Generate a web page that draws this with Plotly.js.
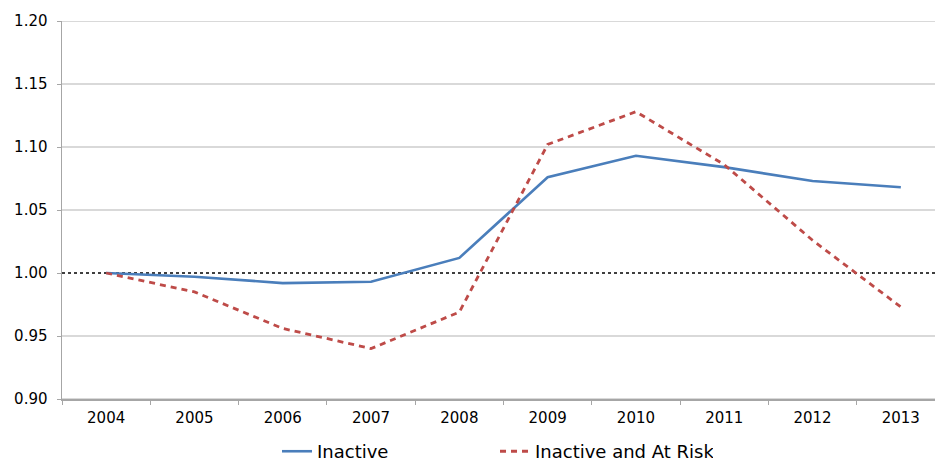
<!DOCTYPE html>
<html>
<head>
<meta charset="utf-8">
<script src="https://cdn.plot.ly/plotly-3.0.1.min.js"></script>
<style>
  html, body { margin: 0; padding: 0; background: #ffffff; }
  #chart { width: 935px; height: 462px; }
</style>
</head>
<body>
<div id="chart"></div>
<script>
// Index values relative to 2004 (= 1.00)
const years = ['2004', '2005', '2006', '2007', '2008', '2009', '2010', '2011', '2012', '2013'];
const inactive = [1.000, 0.997, 0.992, 0.993, 1.012, 1.076, 1.093, 1.084, 1.073, 1.068];
const inactiveAtRisk = [1.000, 0.985, 0.956, 0.940, 0.969, 1.102, 1.128, 1.086, 1.026, 0.973];
const baseline = 1.00;
const yTicks = [0.90, 0.95, 1.00, 1.05, 1.10, 1.15, 1.20];
const gridTicks = yTicks.filter(v => v !== baseline);

const font = 'DejaVu Sans, Verdana, sans-serif';

const traces = [
  {
    x: years, y: inactive, name: 'Inactive', type: 'scatter', mode: 'lines',
    line: { color: '#4A7EBB', width: 2.6 }
  },
  {
    x: years, y: inactiveAtRisk, name: 'Inactive and At Risk', type: 'scatter', mode: 'lines',
    line: { color: '#BE4B48', width: 2.8, dash: '6px,5px' }
  }
];

// Gray gridlines everywhere except the baseline, which is drawn dotted
const gridShapes = gridTicks.map(v => ({
  type: 'line', xref: 'paper', x0: 0, x1: 1, yref: 'y', y0: v, y1: v,
  line: { color: '#B4B4B4', width: 1.2 }, layer: 'below'
}));

const layout = {
  width: 935, height: 462,
  margin: { l: 62, r: 0, t: 21, b: 63, autoexpand: false },
  paper_bgcolor: '#ffffff', plot_bgcolor: '#ffffff',
  font: { family: font, size: 14, color: '#000000' },
  showlegend: true,
  legend: {
    orientation: 'h', x: 0.496, xanchor: 'center', y: -0.139, yanchor: 'middle',
    font: { family: font, size: 18, color: '#000000' },
    entrywidth: 173, itemwidth: 30
  },
  xaxis: {
    type: 'category', range: [-0.5, 9.387],
    showgrid: false, zeroline: false,
    showline: true, linecolor: '#A6A6A6', linewidth: 1.5,
    ticks: 'outside', tickson: 'boundaries', ticklen: 4, tickcolor: '#A6A6A6',
    tickfont: { family: font, size: 15 }, ticklabelstandoff: 4
  },
  yaxis: {
    range: [0.90, 1.20], tickvals: yTicks,
    ticktext: yTicks.map(v => v.toFixed(2)),
    showgrid: false,
    zeroline: false,
    showline: true, linecolor: '#A6A6A6', linewidth: 1.5,
    ticks: 'outside', ticklen: 4, tickcolor: '#A6A6A6',
    tickfont: { family: font, size: 15 }, ticklabelstandoff: 6
  },
  shapes: gridShapes.concat([{
    type: 'line', xref: 'paper', x0: 0, x1: 1, yref: 'y', y0: baseline, y1: baseline,
    line: { color: '#000000', width: 1.6, dash: 'dot' }, layer: 'below'
  }])
};

Plotly.newPlot('chart', traces, layout, { displayModeBar: false, staticPlot: true });
</script>
</body>
</html>
